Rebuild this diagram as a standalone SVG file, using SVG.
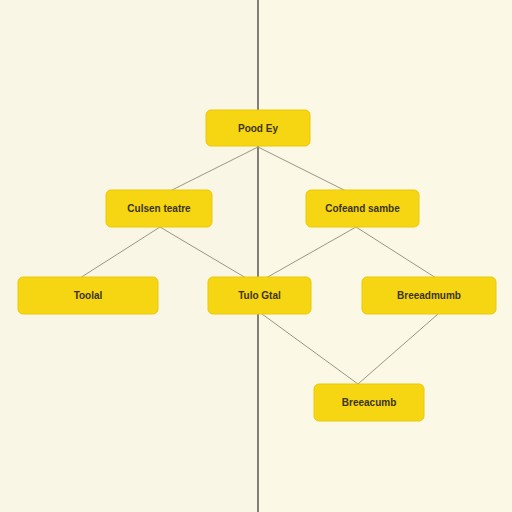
<svg xmlns="http://www.w3.org/2000/svg" width="512" height="512" viewBox="0 0 512 512">
<style>
.n rect{fill:#F6D512;stroke:#E9C90A;stroke-width:1}
.n text{font-family:"Liberation Sans",Arial,sans-serif;font-size:10px;font-weight:bold;fill:#3b3414;text-anchor:middle;dominant-baseline:central}
.c line{stroke:#9a9685;stroke-width:1}
</style>
<rect width="512" height="512" fill="#FBF8E6"/>
<rect width="258" height="512" fill="#F9F6E6"/>
<line x1="258" y1="0" x2="258" y2="512" stroke="#5a5850" stroke-width="1.5"/>
<g id="connectors" class="c">
<line x1="258" y1="147" x2="170" y2="191"/>
<line x1="258" y1="147" x2="346" y2="191"/>
<line x1="160" y1="227" x2="80" y2="278"/>
<line x1="160" y1="227" x2="246" y2="278"/>
<line x1="356" y1="227" x2="266" y2="278"/>
<line x1="356" y1="227" x2="436" y2="278"/>
<line x1="262" y1="314" x2="358" y2="384"/>
<line x1="438" y1="314" x2="358" y2="384"/>
</g>
<g id="n1" class="n"><rect x="206" y="110" width="104" height="36" rx="5"/><text x="258" y="128">Pood Ey</text></g>
<g id="n2" class="n"><rect x="106" y="190" width="106" height="37" rx="5"/><text x="159" y="208.5">Culsen teatre</text></g>
<g id="n3" class="n"><rect x="306" y="190" width="113" height="37" rx="5"/><text x="362.5" y="208.5">Cofeand sambe</text></g>
<g id="n4" class="n"><rect x="18" y="277" width="140" height="37" rx="5"/><text x="88" y="295.5">Toolal</text></g>
<g id="n5" class="n"><rect x="208" y="277" width="103" height="37" rx="5"/><text x="259.5" y="295.5">Tulo Gtal</text></g>
<g id="n6" class="n"><rect x="362" y="277" width="134" height="37" rx="5"/><text x="429" y="295.5">Breeadmumb</text></g>
<g id="n7" class="n"><rect x="314" y="384" width="110" height="37" rx="5"/><text x="369" y="402.5">Breeacumb</text></g>
</svg>
